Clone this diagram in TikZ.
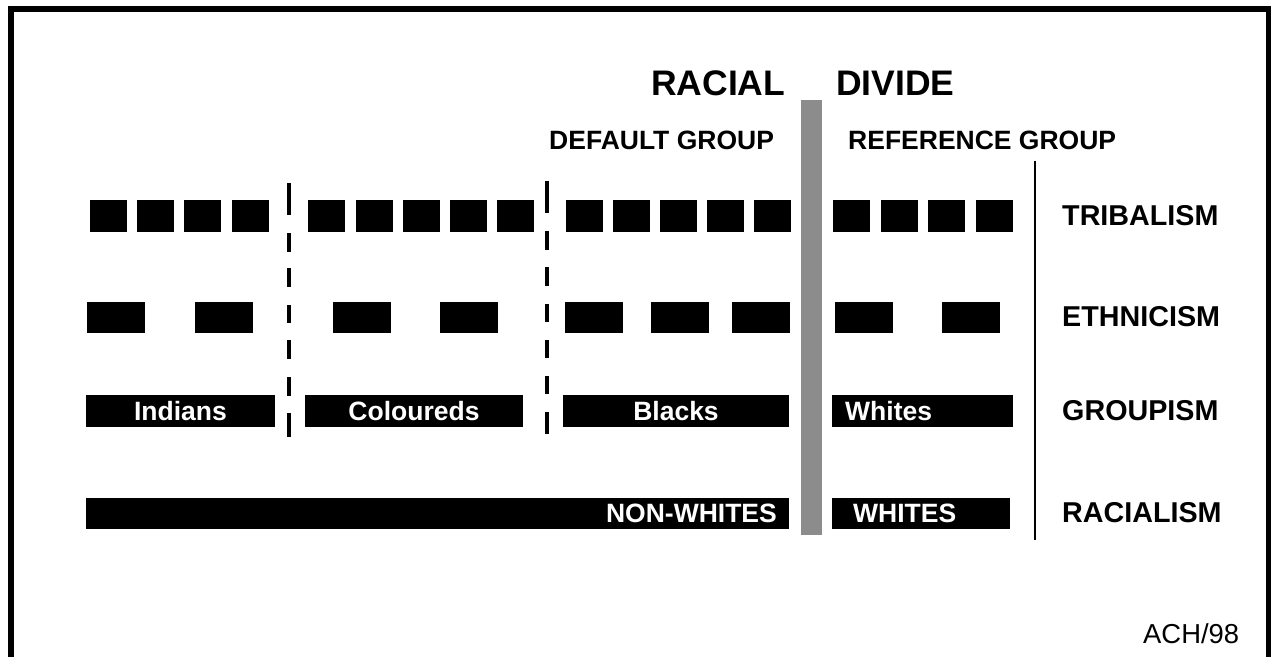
\documentclass[tikz,border=0pt]{standalone}
\usepackage{fontspec}
\setmainfont{Liberation Sans}
\begin{document}
\begin{tikzpicture}[x=1pt,y=-1pt,
  blk/.style={fill=black, draw=none, inner sep=0pt, outer sep=0pt, anchor=north west},
  sqr/.style={blk, minimum width=37pt, minimum height=32pt},
  rect/.style={blk, minimum width=58pt, minimum height=31pt},
  bartext/.style={text=white, font=\fontsize{26.5}{28}\selectfont\bfseries, inner sep=0pt},
  lbl/.style={font=\fontsize{28.7}{30}\selectfont\bfseries, inner sep=0pt, anchor=west},
  grp/.style={font=\fontsize{26.5}{28}\selectfont\bfseries, inner sep=0pt, anchor=west},
  ttl/.style={font=\fontsize{35.5}{38}\selectfont\bfseries, inner sep=0pt, anchor=west},
  dashseg/.style={line width=4pt}]
\useasboundingbox (0,0) rectangle (1271,656);
% frame
\draw[line width=6pt] (11,670) -- (11,9) -- (1269,9) -- (1269,670);
% racial divide bar
\fill[black!45] (801,100) rectangle (822,535);
% right vertical line
\draw[line width=2.5pt] (1035,161) -- (1035,540);
% titles
\node[ttl] (racial) at (651,83) {RACIAL};
\node[ttl] (divide) at (836,83) {DIVIDE};
\node[grp] (defgrp) at (549,140) {DEFAULT GROUP};
\node[grp] (refgrp) at (848,140) {REFERENCE GROUP};
% row 1 tribalism squares
\foreach \x [count=\i] in {90,137,184,232,308,356,403,450,497,566,613,660,707,754,833,881,928,976}
  \node[sqr] (tri\i) at (\x,200) {};
% row 2 ethnicism rectangles
\foreach \x [count=\i] in {87,195,333,440,565,651,732,835,942}
  \node[rect] (eth\i) at (\x,302) {};
% row 3 groupism bars
\node[blk, minimum width=189pt, minimum height=32pt] (indians) at (86,395) {};
\node[bartext] (indianst) at (indians.center) {Indians};
\node[blk, minimum width=218pt, minimum height=32pt] (coloureds) at (305,395) {};
\node[bartext] (colouredst) at (coloureds.center) {Coloureds};
\node[blk, minimum width=226pt, minimum height=32pt] (blacks) at (563,395) {};
\node[bartext] (blackst) at (blacks.center) {Blacks};
\node[blk, minimum width=181pt, minimum height=32pt] (whites) at (832,395) {};
\node[bartext, anchor=west] (whitest) at (845,411) {Whites};
% row 4 racialism bars
\node[blk, minimum width=703pt, minimum height=31pt] (nonwhites) at (86,498) {};
\node[bartext, anchor=east] (nonwhitest) at (777,513.5) {NON-WHITES};
\node[blk, minimum width=178pt, minimum height=31pt] (whitesr) at (832,498) {};
\node[bartext, anchor=west] (whitesrt) at (853,513.5) {WHITES};
% dashed separators
\foreach \a/\b in {183/215,233/252,268/287,305/323,340/359,377/396,413/437}
  \draw[dashseg] (289,\a) -- (289,\b);
\foreach \a/\b in {181/213,231/250,267/286,304/322,340/358,376/394,412/434}
  \draw[dashseg] (547,\a) -- (547,\b);
% right labels
\node[lbl] (tribalism) at (1062,216) {TRIBALISM};
\node[lbl] (ethnicism) at (1062,317) {ETHNICISM};
\node[lbl] (groupism) at (1062,411) {GROUPISM};
\node[lbl] (racialism) at (1062,513) {RACIALISM};
% credit
\node[font=\fontsize{27.4}{29}\selectfont, inner sep=0pt, anchor=west] (credit) at (1143,634) {ACH/98};
\end{tikzpicture}
\end{document}
